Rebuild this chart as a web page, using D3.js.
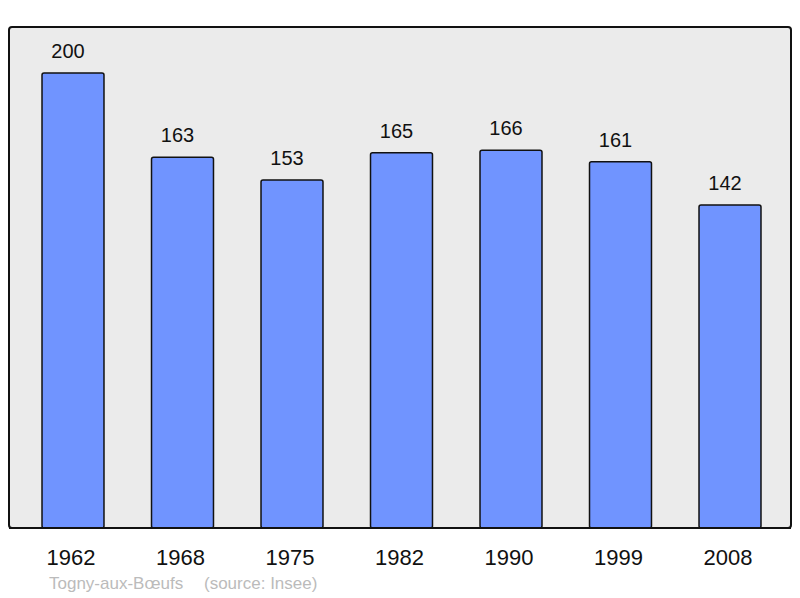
<!DOCTYPE html>
<html><head><meta charset="utf-8">
<script src="https://cdn.jsdelivr.net/npm/d3@7"></script>
<style>body{margin:0;background:#fff}svg{display:block}text{font-family:"Liberation Sans",Arial,sans-serif}</style>
</head><body>
<script>
const years = ["1962","1968","1975","1982","1990","1999","2008"];
const population = [200,163,153,165,166,161,142];
const placeName = "Togny-aux-Bœufs";
const sourceText = "(source: Insee)";

const W = 800, H = 598;
const svg = d3.select("body").append("svg").attr("width", W).attr("height", H);

const plot = {x0: 9, y0: 27, x1: 791, y1: 528};
svg.append("rect").attr("x", plot.x0).attr("y", plot.y0)
  .attr("width", plot.x1 - plot.x0).attr("height", plot.y1 - plot.y0)
  .attr("rx", 3).attr("fill", "#ebebeb").attr("stroke", "#111").attr("stroke-width", 2);

const x = d3.scaleBand().domain(years).range([18.25, 784.75]).paddingInner(0.434).paddingOuter(0.217);
const y = d3.scaleLinear().domain([0, 200]).range([plot.y1, 73]);

const data = years.map((yr, i) => ({yr, v: population[i]}));

svg.selectAll("rect.bar").data(data).enter().append("rect").attr("class", "bar")
  .attr("x", d => x(d.yr)).attr("y", d => y(d.v))
  .attr("width", x.bandwidth()).attr("height", d => plot.y1 - y(d.v))
  .attr("rx", 2).attr("fill", "#7094ff").attr("stroke", "#111").attr("stroke-width", 1.5);

svg.append("line").attr("x1", plot.x0).attr("x2", plot.x1).attr("y1", plot.y1).attr("y2", plot.y1)
  .attr("stroke", "#111").attr("stroke-width", 2);

svg.selectAll("text.val").data(data).enter().append("text").attr("class", "val")
  .attr("x", d => x(d.yr) + x.bandwidth() / 2 - 5).attr("y", d => y(d.v) - 15)
  .attr("text-anchor", "middle").attr("font-size", 20).attr("fill", "#111")
  .text(d => d.v);

const xAxis = d3.axisBottom(x).tickSize(0).tickPadding(0);
const ax = svg.append("g").attr("transform", `translate(0,${plot.y1})`).call(xAxis);
ax.select(".domain").remove();
ax.selectAll("text").attr("font-size", 22).attr("fill", "#111")
  .attr("font-family", "\"Liberation Sans\",Arial,sans-serif")
  .attr("dy", null).attr("y", 37).attr("x", -2);

svg.append("text").attr("x", 49).attr("y", 589).attr("font-size", 17).attr("fill", "#bbbbbb").text(placeName);
svg.append("text").attr("x", 204).attr("y", 589).attr("font-size", 17).attr("fill", "#bbbbbb").text(sourceText);
</script>
</body></html>
